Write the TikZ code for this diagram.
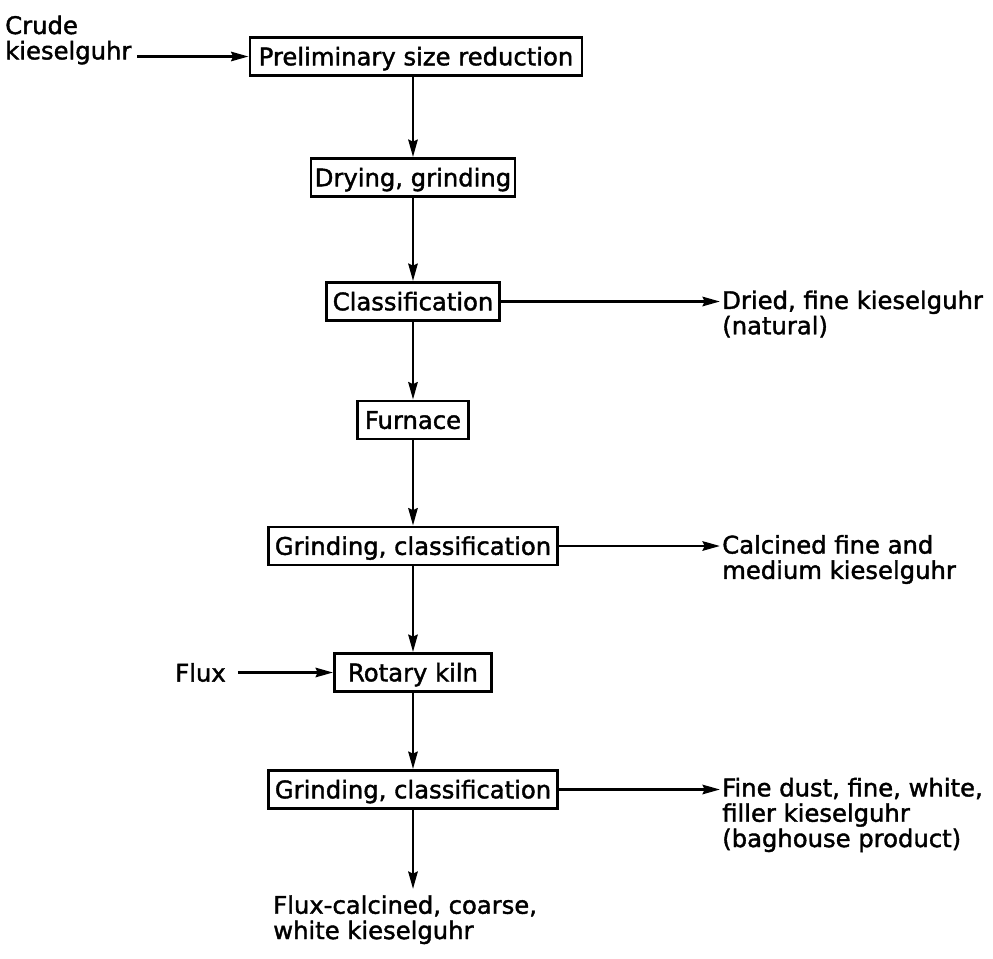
\documentclass[tikz,border=0pt]{standalone}
\usepackage{fontspec}
\setmainfont{DejaVu Sans}[AutoFakeBold=1.6]
\usetikzlibrary{arrows.meta,calc}
\begin{document}
\begin{tikzpicture}[x=0.75pt,y=-0.75pt,
  every node/.style={font=\fontsize{18.2pt}{19pt}\selectfont\bfseries},
  stage/.style={draw,line width=2.2pt,inner sep=0pt,minimum height=28.5pt,
                text height=13.2pt,text depth=0pt},
  label/.style={inner sep=0pt,align=left},
  flow/.style={line width=2.1pt,-{Stealth[length=13pt,width=7pt,inset=1.5pt]}},
  ]
\useasboundingbox (0,0) rectangle (993,958);

% process stages
\node[stage,minimum width=249pt]   (prelim)   at (416,56.5)  {Preliminary size reduction};
\node[stage,minimum width=153pt]   (drying)   at (413,177.5) {Drying, grinding};
\node[stage,minimum width=129.75pt](classify) at (413,301.5) {Classification};
\node[stage,minimum width=83.25pt] (furnace)  at (413,420)   {Furnace};
\node[stage,minimum width=216.75pt](grindA)   at (413,546)   {Grinding, classification};
\node[stage,minimum width=117.75pt](kiln)     at (413,672.5) {Rotary kiln};
\node[stage,minimum width=216.75pt](grindB)   at (413,789.5) {Grinding, classification};

% feeds and products
\node[label,anchor=west] (crude)   at (5,40)     {Crude\\kieselguhr};
\node[label,anchor=west] (flux)    at (175,672.5) {Flux};
\node[label,anchor=west] (dried)   at (722,314)  {Dried, fine kieselguhr\\(natural)};
\node[label,anchor=west] (calc)    at (722,559.5) {Calcined fine and\\medium kieselguhr};
\node[label,anchor=west] (dust)    at (722,815)  {Fine dust, fine, white,\\filler kieselguhr\\(baghouse product)};
\node[label,anchor=north west] (coarse) at (273,895) {Flux-calcined, coarse,\\white kieselguhr};

\coordinate (driedEnd) at (720,301.5);
\coordinate (calcEnd)  at (720,546);
\coordinate (dustEnd)  at (720,789.5);
\coordinate (coarseEnd) at (413,889);

% main line
\draw[flow] (drying.north |- prelim.south) -- (drying.north);
\draw[flow] (drying.south) -- (classify.north);
\draw[flow] (classify.south) -- (furnace.north);
\draw[flow] (furnace.south) -- (grindA.north);
\draw[flow] (grindA.south) -- (kiln.north);
\draw[flow] (kiln.south) -- (grindB.north);
\draw[flow] (grindB.south) -- (coarseEnd);

% side streams
\draw[flow,shorten <=4pt] (crude.east |- prelim.west) -- (prelim.west);
\draw[flow,shorten <=9pt] (flux.east |- kiln.west) -- (kiln.west);
\draw[flow] (classify.east) -- (driedEnd);
\draw[flow] (grindA.east) -- (calcEnd);
\draw[flow] (grindB.east) -- (dustEnd);
\end{tikzpicture}
\end{document}
